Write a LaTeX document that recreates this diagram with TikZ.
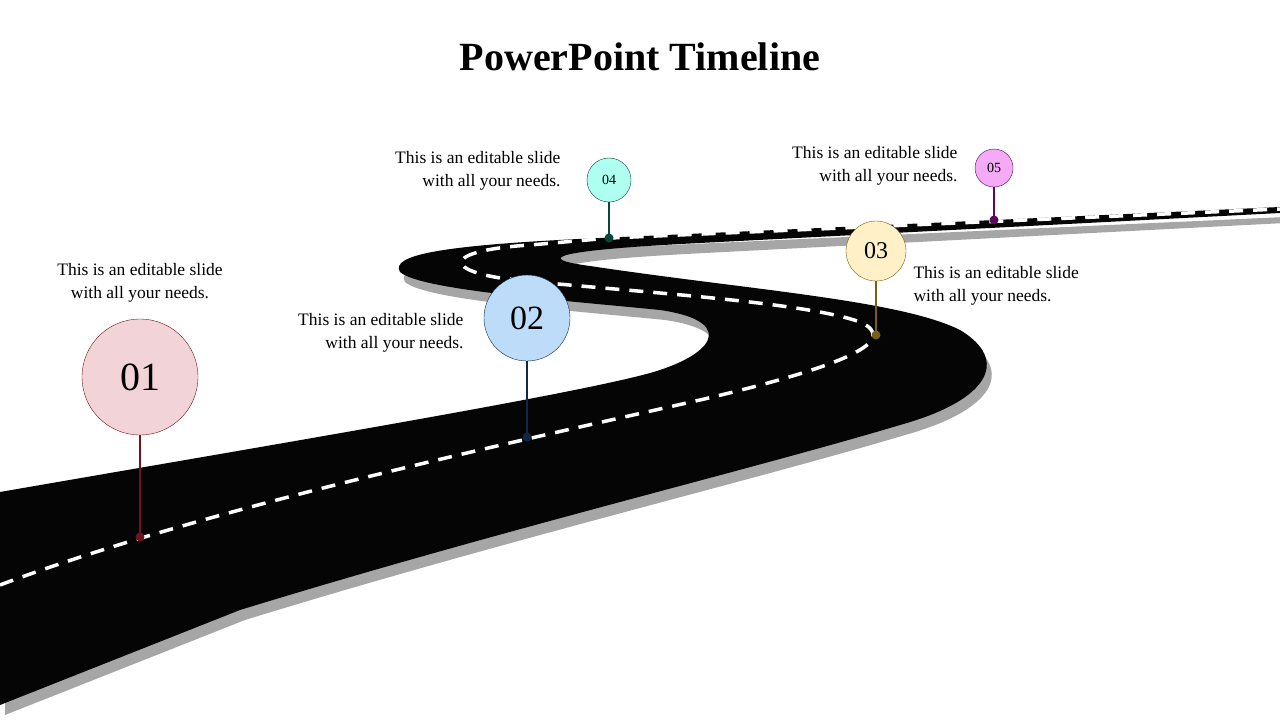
\documentclass[tikz,border=0pt]{standalone}
\usepackage{fontspec}
\setmainfont{Liberation Serif}
\definecolor{pinkA}{RGB}{242,212,216}\definecolor{lineA}{RGB}{110,20,30}
\definecolor{pinkB}{RGB}{189,220,250}\definecolor{lineB}{RGB}{15,40,70}
\definecolor{pinkC}{RGB}{255,240,200}\definecolor{lineC}{RGB}{120,95,20}
\definecolor{pinkD}{RGB}{175,255,240}\definecolor{lineD}{RGB}{10,70,60}
\definecolor{pinkE}{RGB}{245,170,245}\definecolor{lineE}{RGB}{90,10,90}
\begin{document}
\begin{tikzpicture}[x=1pt,y=-1pt,
  pinball/.style={circle,draw=#1,inner sep=0pt},
  note/.style={font=\fontsize{17.5}{23}\selectfont,align=center}]

\useasboundingbox (0,0) rectangle (1280,720);

% road shadow and road
\def\roadpath{(0,492) .. controls (300,440) and (600,390) .. (660,370)
  .. controls (720,350) and (730,320) .. (660,310)
  .. controls (560,300) and (420,290) .. (400,272)
  .. controls (390,255) and (440,245) .. (600,238) -- (1280,207) -- (1280,213)
  -- (700,243) .. controls (560,250) and (530,258) .. (590,266)
  .. controls (750,290) and (900,300) .. (960,330)
  .. controls (1010,360) and (990,400) .. (900,425)
  .. controls (750,470) and (500,530) .. (240,610) -- (0,705) -- cycle}
\fill[gray!70,shift={(5pt,-10pt)}] \roadpath;
\fill[black!98] \roadpath;

% centre line
\draw[white,line width=3.5pt,dash pattern=on 14pt off 10pt]
  (0,585) .. controls (200,510) and (500,445) .. (700,400)
  .. controls (850,365) and (900,340) .. (860,322)
  .. controls (800,300) and (600,290) .. (500,278)
  .. controls (440,268) and (450,250) .. (530,245) -- (610,238) -- (1280,209);

\node[font=\fontsize{40}{44}\selectfont\bfseries] (title) at (640,57) {PowerPoint Timeline};

% pins
\foreach \n/\x/\y/\r/\b/\c/\fs in {01/140/377/58/537/A/40, 02/527/318/43/437/B/34,
    03/876/251/30/335/C/24, 04/609/180/22/238/D/14, 05/994/168/19/220/E/14}{
  \coordinate (base\n) at (\x,\b);
  \node[pinball=line\c,fill=pink\c,minimum size=2*\r pt,font=\fontsize{\fs}{\fs}\selectfont] (pin\n) at (\x,\y) {\n};
  \draw[line\c,line width=2pt] (pin\n) -- (base\n);
  \fill[line\c] (base\n) circle (4.5pt);
}

% notes
\node[note] (t1) at (140,283) {This is an editable slide\\with all your needs.};
\node[note,anchor=east,align=right] (t2) at (467,333) {This is an editable slide\\with all your needs.};
\node[note,anchor=west,align=left] (t3) at (910,286) {This is an editable slide\\with all your needs.};
\node[note,anchor=east,align=right] (t4) at (564,171) {This is an editable slide\\with all your needs.};
\node[note,anchor=east,align=right] (t5) at (961,166) {This is an editable slide\\with all your needs.};

\end{tikzpicture}
\end{document}
